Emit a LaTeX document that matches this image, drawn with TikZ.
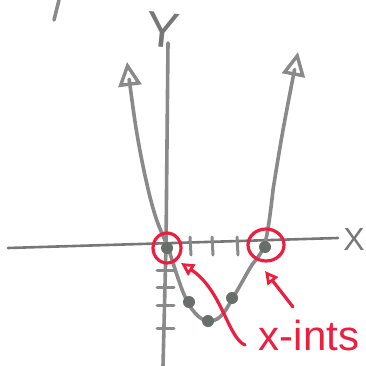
\documentclass[tikz,border=0pt]{standalone}
\usepackage{fontspec}
\setmainfont{Liberation Sans}
\usetikzlibrary{arrows.meta}
\definecolor{pencil}{HTML}{8A8A8A}
\definecolor{axisc}{HTML}{777777}
\definecolor{dotc}{HTML}{6A6E6B}
\definecolor{marker}{HTML}{EC1F3F}
\begin{document}
\begin{tikzpicture}[x=1pt,y=-1pt,
  axis/.style={axisc, line width=2.6pt, line cap=round},
  curve/.style={pencil, line width=3.6pt, line cap=round, line join=round},
  tick/.style={pencil, line width=3pt, line cap=round},
  dotpt/.style={circle, fill=dotc, inner sep=0pt, minimum size=12pt},
  redline/.style={marker, line width=3.2pt, line cap=round},
  redtip/.style={-{Triangle[open, length=13pt, width=13pt, line width=2.8pt]}},
  bigtip/.style={-{Triangle[open, length=24pt, width=23pt, line width=3.4pt]}},
  lbl/.style={axisc, inner sep=0pt}]
\useasboundingbox (0,0) rectangle (365,366);
% fragment at top left
\draw[curve] (59,0) -- (54,20);
% axes
\coordinate (xl) at (8,248);
\coordinate (xr) at (338,238);
\coordinate (yt) at (168,43);
\coordinate (yb) at (163,366);
\draw[axis] (xl) -- (xr);
\draw[curve] (yt) -- (166,245) -- (yb);
\node[lbl, font=\fontsize{50}{50}\selectfont, rotate=-6] (ylab) at (163,30) {Y};
\node[lbl, font=\fontsize{32}{32}\selectfont] (xlab) at (354,239) {X};
% ticks
\foreach \x in {190,212,237} \draw[tick] (\x,237) -- (\x+1,255);
\foreach \y in {270,287,305,328} \draw[tick] (157,\y) -- (174,\y);
% parabola
\coordinate (la) at (127,62);
\coordinate (ra) at (298,52);
\draw[curve, bigtip] plot[smooth, tension=0.6] coordinates {(168,247) (156,218) (146,180) (136,128) (la)};
\draw[curve] plot[smooth, tension=0.6] coordinates {(168,247) (183,292) (195,313) (208,321) (221,316) (234,296) (250,268) (265,243) (273,190)};
\draw[curve, bigtip] plot[smooth, tension=0.6] coordinates {(273,190) (283,130) (ra)};
% dots
\node[dotpt] (o) at (167,248) {};
\node[dotpt] (r) at (265,247) {};
\node[dotpt] (d1) at (189,302) {};
\node[dotpt] (d2) at (232,298) {};
\node[dotpt] (v) at (208,321) {};
% red circles
\draw[redline] (o) ellipse[x radius=14, y radius=15];
\draw[redline] (266,245) ellipse[x radius=18, y radius=16];
% red arrows
\coordinate (a1s) at (245,345);
\coordinate (a1e) at (181,263);
\coordinate (a2s) at (293,307);
\coordinate (a2e) at (265,271);
\draw[redline, redtip] (a1s) .. controls (228,338) and (222,290) .. (a1e);
\draw[redline, redtip] (a2s) -- (a2e);
\node[marker, inner sep=0pt, font=\fontsize{42}{42}\selectfont] (txt) at (309,335) {x-ints};
\end{tikzpicture}
\end{document}
